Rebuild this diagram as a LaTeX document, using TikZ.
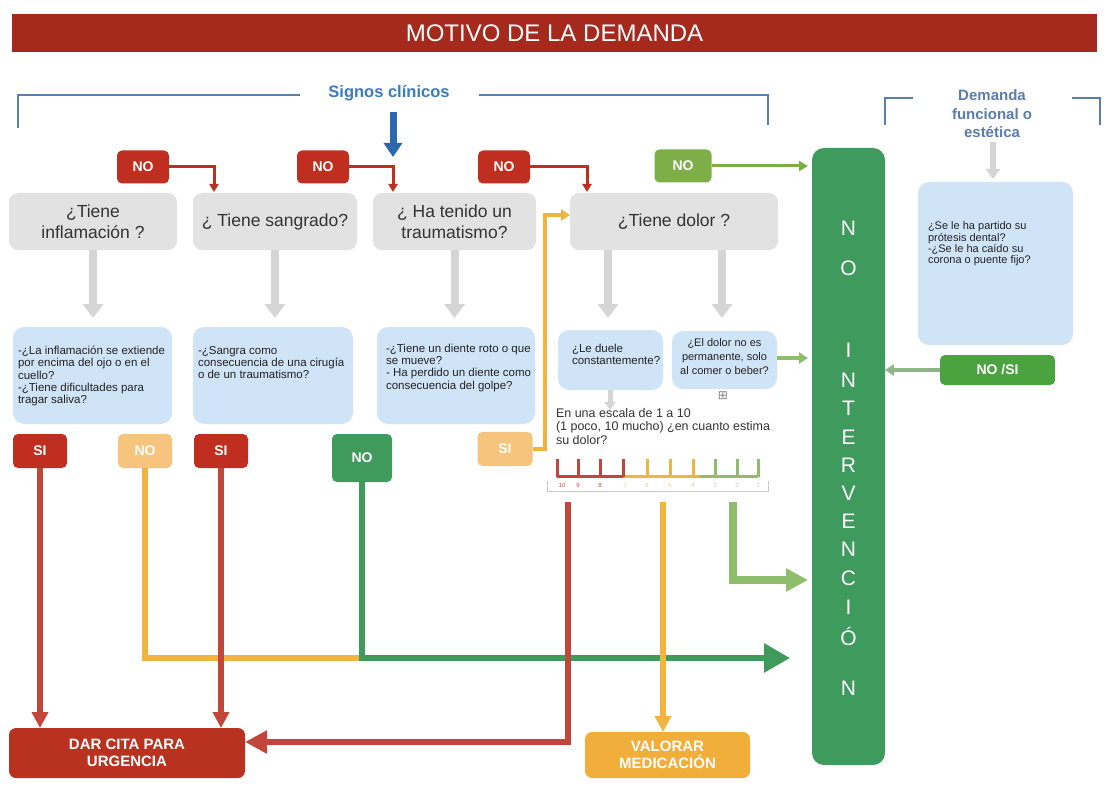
\documentclass[tikz,border=0pt]{standalone}
\usepackage{fontspec}
\setmainfont{Liberation Sans}
\newfontfamily\symfont{DejaVu Sans}
\usetikzlibrary{arrows.meta}
\definecolor{titlered}{HTML}{A6291E}
\definecolor{nored}{HTML}{BF2E1E}
\definecolor{darred}{HTML}{B9321F}
\definecolor{redline}{HTML}{C3463A}
\definecolor{orangeline}{HTML}{F0B440}
\definecolor{lightorange}{HTML}{F6C47C}
\definecolor{valorange}{HTML}{F2AE3A}
\definecolor{greenbig}{HTML}{3E9A5D}
\definecolor{greenline}{HTML}{3F9A5B}
\definecolor{olivegreen}{HTML}{7DAE47}
\definecolor{lightgreen}{HTML}{8EBE6B}
\definecolor{nosigreen}{HTML}{4AA33F}
\definecolor{nosiarrow}{HTML}{8DB585}
\definecolor{lightblue}{HTML}{D0E4F8}
\definecolor{graybox}{HTML}{E2E2E2}
\definecolor{grayarr}{HTML}{D5D5D5}
\definecolor{brackblue}{HTML}{5A7FA8}
\definecolor{signosblue}{HTML}{3A7CC2}
\definecolor{demandablue}{HTML}{5B7DAE}
\definecolor{arrowblue}{HTML}{2C67B0}
\definecolor{qtext}{HTML}{333333}
\definecolor{itxt}{HTML}{222222}
\definecolor{scalegray}{HTML}{C8C8C8}
\tikzset{
  base/.style={inner sep=0pt, outer sep=0pt},
  qbox/.style={base, fill=graybox, rounded corners=9, align=center, text=qtext, font=\fontsize{17.5}{20.5}\selectfont},
  ibox/.style={base, fill=lightblue, rounded corners=11},
  itext/.style={base, align=left, text=itxt, font=\fontsize{11.5}{12.3}\selectfont},
  tag/.style={base, rounded corners=5, text=white, font=\bfseries\fontsize{14}{14}\selectfont, minimum height=33},
  outbox/.style={base, rounded corners=7, text=white, align=center, font=\bfseries\fontsize{15}{17}\selectfont},
  grayarrow/.style={draw=grayarr, line width=8pt, -{Triangle[length=14pt,width=20pt]}},
  thinred/.style={draw=nored, line width=3pt, -{Triangle[length=8pt,width=9pt]}},
  bracket/.style={draw=brackblue, line width=2.5pt},
  letter/.style={base, text=white, font=\fontsize{21}{21}\selectfont},
  scalenum/.style={base, font=\fontsize{6}{6}\selectfont},
}
\begin{document}
\begin{tikzpicture}[x=1pt,y=-1pt]
\useasboundingbox (0,0) rectangle (1109,789);
\fill[white] (0,0) rectangle (1109,789);

% title
\node[base, fill=titlered, minimum width=1085, minimum height=38, text=white,
      font=\fontsize{24}{24}\selectfont] (title) at (554.5,33) {MOTIVO DE LA DEMANDA};

% brackets
\node[base, text=signosblue, font=\bfseries\fontsize{16.5}{18}\selectfont] (signos) at (389,93) {Signos clínicos};
\draw[bracket] (18,128) -- (18,95) -- (300,95);
\draw[bracket] (479,95) -- (768,95) -- (768,125);
\node[base, text=demandablue, align=center, font=\bfseries\fontsize{15}{18.5}\selectfont] (demanda) at (992,114) {Demanda\\funcional o\\estética};
\draw[bracket] (885,125) -- (885,98) -- (913,98);
\draw[bracket] (1072,98) -- (1100,98) -- (1100,125);

% blue arrow
\coordinate (bluetop) at (393,112);
\coordinate (bluetip) at (393,157);
\draw[draw=arrowblue, line width=7pt, -{Triangle[length=14pt,width=18pt]}] (bluetop) -- (bluetip);

% top NO tags
\node[tag, fill=nored, minimum width=52] (no1) at (143,167) {NO};
\node[tag, fill=nored, minimum width=52] (no2) at (323,167) {NO};
\node[tag, fill=nored, minimum width=52] (no3) at (504,167) {NO};
\node[tag, fill=olivegreen, minimum width=57] (nog) at (683,166) {NO};

% question boxes
\node[qbox, minimum width=168, minimum height=57] (g1) at (93,221.5) {¿Tiene\\inflamación ?};
\node[qbox, minimum width=164, minimum height=57] (g2) at (275,221.5) {¿ Tiene sangrado?};
\node[qbox, minimum width=163, minimum height=57] (g3) at (454.5,221.5) {¿ Ha tenido un\\traumatismo?};
\node[qbox, minimum width=208, minimum height=57] (g4) at (674,221.5) {¿Tiene dolor ?};

% NO arrows along the top
\draw[thinred] (no1.east) -| (214,192);
\draw[thinred] (no2.east) -| (393,192);
\draw[thinred] (no3.east) -| (587,192);

% big NO INTERVENCION box
\node[base, fill=greenbig, rounded corners=12, minimum width=73, minimum height=617] (big) at (848.5,456.5) {};
\foreach \l/\yy [count=\i] in {N/228,O/268,I/350,N/380,T/408,E/437,R/465,V/493,E/521,N/549,C/578,I/607,Ó/636,N/688}
  \node[letter] (let\i) at (848.5,\yy) {\l};

\draw[draw=olivegreen, line width=3pt, -{Triangle[length=9pt,width=10pt]}, shorten >=4pt] (nog.east) -- (nog.east -| big.west);

% info boxes
\node[ibox, minimum width=159, minimum height=97] (b1) at (92.5,375.5) {};
\node[itext, anchor=west] (t1) at (18,376) {-¿La inflamación se extiende\\por encima del ojo o en el\\cuello?\\-¿Tiene dificultades para\\tragar saliva?};
\node[ibox, minimum width=160, minimum height=97] (b2) at (273,375.5) {};
\node[itext, anchor=north west] (t2) at (198,346) {-¿Sangra como\\consecuencia de una cirugía\\o de un traumatismo?};
\node[ibox, minimum width=158, minimum height=97] (b3) at (456,375.5) {};
\node[itext, anchor=north west] (t3) at (386,344) {-¿Tiene un diente roto o que\\se mueve?\\- Ha perdido un diente como\\consecuencia del golpe?};
\node[ibox, minimum width=105, minimum height=60] (b4) at (610.5,360) {};
\node[itext, anchor=north west] (t4) at (572,344) {¿Le duele\\constantemente?};
\node[ibox, minimum width=105, minimum height=58] (b5) at (724.5,360) {};
\node[itext, align=center, font=\fontsize{11}{14}\selectfont] (t5) at (724.5,357) {¿El dolor no es\\permanente, solo\\al comer o beber?};
\node[base, text=gray, font=\symfont\fontsize{12}{12}\selectfont] (plus) at (723,396) {⊞};
\node[ibox, minimum width=155, minimum height=163] (b6) at (995.5,263.5) {};
\node[itext, anchor=north west, font=\fontsize{11}{9.8}\selectfont] (t6) at (928,222) {¿Se le ha partido su\\prótesis dental?\\-¿Se le ha caído su\\corona o puente fijo?};

% gray arrows
\draw[grayarrow] (g1.south) -- (g1.south |- 0,318);
\draw[grayarrow] (g2.south) -- (g2.south |- 0,318);
\draw[grayarrow] (g3.south) -- (g3.south |- 0,318);
\coordinate (g4a) at (608,250);
\coordinate (g4b) at (722,250);
\draw[grayarrow] (g4a) -- (608,318);
\draw[grayarrow] (g4b) -- (722,318);
\draw[draw=grayarr, line width=5pt, -{Triangle[length=8pt,width=11pt]}] (b4.south -| 610,0) -- (610,410);
\draw[draw=grayarr, line width=6pt, -{Triangle[length=10pt,width=14pt]}] (demanda.south -| 993,0) ++(0,4) -- (993,179);

% arrow b5 -> big
\draw[draw=lightgreen, line width=3.5pt, -{Triangle[length=9pt,width=11pt]}, shorten >=4pt] (b5.east |- 0,358) -- (big.west |- 0,358);

% NO/SI
\node[tag, fill=nosigreen, minimum width=115, minimum height=30] (nosi) at (997.5,370) {NO /SI};
\draw[draw=nosiarrow, line width=4pt, -{Triangle[length=9pt,width=11pt]}] (nosi.west) -- (nosi.west -| big.east);

% scale text
\node[base, anchor=north west, align=left, text=qtext, font=\fontsize{12.5}{13.5}\selectfont] (esc) at (556,408) {En una escala de 1 a 10\\(1 poco, 10 mucho) ¿en cuanto estima\\su dolor?};

% scale graphic
\draw[redline, line width=3pt] (557,476) -- (623,476);
\draw[orangeline, line width=3pt] (623,476) -- (700,476);
\draw[lightgreen, line width=3pt] (700,476) -- (758,476);
\foreach \xx/\cc in {557/redline,578/redline,600/redline,623/redline,647/orangeline,670/orangeline,693/orangeline,715/lightgreen,737/lightgreen,758/lightgreen}
  \draw[\cc, line width=3pt] (\xx,459) -- (\xx,477);
\draw[scalegray, line width=1pt] (547,481) -- (547,491) -- (768,491) -- (768,481);
\foreach \nn/\xx/\cc [count=\i] in {10/562/redline,9/578/redline,8/600/redline,7/625/lightorange,6/647/lightorange,5/670/lightorange,4/693/lightorange,3/715/scalegray,2/737/scalegray,1/758/scalegray}
  \node[scalenum, text=\cc] (num\i) at (\xx,485) {\nn};
\coordinate (sc10) at (568,502);
\coordinate (sc5) at (663,502);
\coordinate (sc2) at (733,502);

% bottom tags
\node[tag, fill=nored, minimum width=54, minimum height=34] (si1) at (40,451) {SI};
\node[tag, fill=lightorange, minimum width=54, minimum height=34] (noo) at (145,451) {NO};
\node[tag, fill=nored, minimum width=54, minimum height=34] (si2) at (221,451) {SI};
\node[tag, fill=greenline, minimum width=60, minimum height=48] (nog2) at (362,458) {NO};
\node[tag, fill=lightorange, minimum width=55, minimum height=34] (sio) at (505,449) {SI};

% outcome boxes
\node[outbox, fill=darred, minimum width=236, minimum height=50] (dar) at (127,753) {DAR CITA PARA\\URGENCIA};
\node[outbox, fill=valorange, minimum width=165, minimum height=46] (val) at (667.5,755) {VALORAR\\MEDICACIÓN};

% flows
\coordinate (gturn) at (362,658);
\coordinate (gtip) at (790,658);
\draw[draw=orangeline, line width=6pt] (noo.south) |- (gturn);
\draw[draw=greenline, line width=6pt, -{Triangle[length=26pt,width=28pt]}] (nog2.south) -- (gturn) -- (gtip);
\draw[draw=redline, line width=6pt, -{Triangle[length=16pt,width=16pt]}] (si1.south) -- (si1.south |- dar.north);
\draw[draw=redline, line width=6pt, -{Triangle[length=16pt,width=16pt]}] (si2.south) -- (si2.south |- dar.north);
\coordinate (rturn) at (568,742);
\draw[draw=redline, line width=6pt, -{Triangle[length=22pt,width=22pt]}] (sc10) -- (rturn) -- (rturn -| dar.east);
\draw[draw=orangeline, line width=6pt, -{Triangle[length=16pt,width=16pt]}] (sc5) -- (sc5 |- val.north);
\coordinate (lgturn) at (733,580);
\draw[draw=lightgreen, line width=8pt, -{Triangle[length=22pt,width=22pt]}] (sc2) -- (lgturn) -- (808,580);
\coordinate (oturn) at (545,449);
\coordinate (otop) at (545,215);
\draw[draw=orangeline, line width=4pt, -{Triangle[length=9pt,width=11pt]}] (sio.east) -- (oturn) -- (otop) -- (otop -| g4.west);
\end{tikzpicture}
\end{document}
